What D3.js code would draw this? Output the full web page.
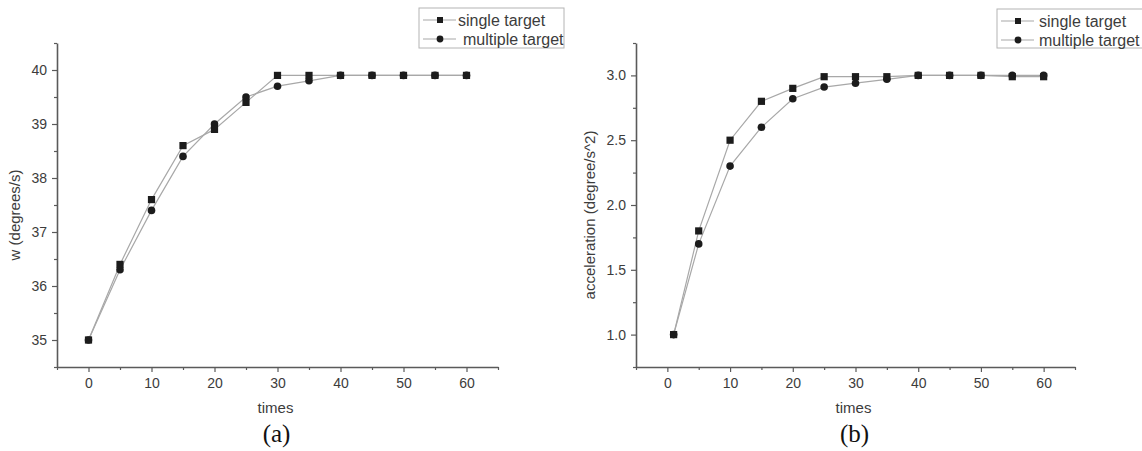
<!DOCTYPE html>
<html>
<head>
<meta charset="utf-8">
<script src="https://cdn.jsdelivr.net/npm/d3@7"></script>
<style>
  html, body { margin: 0; padding: 0; background: #fff; }
  svg { display: block; }
  .tick text { font-family: "Liberation Sans", Arial, sans-serif; }
</style>
</head>
<body>
<svg id="chart" width="1142" height="451"></svg>
<script>
// ---- data ----
const timesA = [0, 5, 10, 15, 20, 25, 30, 35, 40, 45, 50, 55, 60];
const singleA = [35.0, 36.4, 37.6, 38.6, 38.9, 39.4, 39.9, 39.9, 39.9, 39.9, 39.9, 39.9, 39.9];
const multipleA = [35.0, 36.3, 37.4, 38.4, 39.0, 39.5, 39.7, 39.8, 39.9, 39.9, 39.9, 39.9, 39.9];

const timesB = [1, 5, 10, 15, 20, 25, 30, 35, 40, 45, 50, 55, 60];
const singleB = [1.0, 1.8, 2.5, 2.8, 2.9, 2.99, 2.99, 2.99, 3.0, 3.0, 3.0, 2.99, 2.99];
const multipleB = [1.0, 1.7, 2.3, 2.6, 2.82, 2.91, 2.94, 2.97, 3.0, 3.0, 3.0, 3.0, 3.0];

const xTicks = [0, 10, 20, 30, 40, 50, 60];
const xMinorTicks = [-5, 5, 15, 25, 35, 45, 55, 65];
const yTicksA = [35, 36, 37, 38, 39, 40];
const yMinorTicksA = [34.5, 35.5, 36.5, 37.5, 38.5, 39.5, 40.5];
const yTicksB = [1.0, 1.5, 2.0, 2.5, 3.0];
const yMinorTicksB = [0.75, 1.25, 1.75, 2.25, 2.75, 3.25];

const seriesNames = ["single target", "multiple target"];

// ---- drawing ----
const svg = d3.select("#chart");
const SANS = "'Liberation Sans', Arial, sans-serif";
const SERIF = "'Liberation Serif', 'Times New Roman', serif";
const AXIS = "#5a5a5a", LINE = "#a8a8a8", MARK = "#1c1c1c", TEXT = "#3c3c3c";

function panel(cfg) {
  const g = svg.append("g");
  const x = d3.scaleLinear().domain([-5, 65]).range([cfg.left, cfg.right]);
  const y = d3.scaleLinear().domain(cfg.yDomain).range([cfg.bottom, cfg.top]);

  // minor ticks
  g.append("g").attr("transform", `translate(0,${cfg.bottom})`)
    .call(d3.axisBottom(x).tickValues(xMinorTicks).tickSize(3).tickFormat("").tickSizeOuter(0))
    .call(a => a.select(".domain").remove())
    .call(a => a.selectAll("line").attr("stroke", AXIS).attr("stroke-width", 1.2));
  g.append("g").attr("transform", `translate(${cfg.left},0)`)
    .call(d3.axisLeft(y).tickValues(cfg.yMinor).tickSize(3).tickFormat("").tickSizeOuter(0))
    .call(a => a.select(".domain").remove())
    .call(a => a.selectAll("line").attr("stroke", AXIS).attr("stroke-width", 1.2));

  // major axes
  const xa = g.append("g").attr("transform", `translate(0,${cfg.bottom})`)
    .call(d3.axisBottom(x).tickValues(xTicks).tickSize(5).tickSizeOuter(0).tickPadding(6));
  const ya = g.append("g").attr("transform", `translate(${cfg.left},0)`)
    .call(d3.axisLeft(y).tickValues(cfg.yTicks).tickSize(5).tickSizeOuter(0).tickPadding(5)
      .tickFormat(cfg.yFormat));
  [xa, ya].forEach(a => {
    a.select(".domain").attr("stroke", AXIS).attr("stroke-width", 1.6);
    a.selectAll(".tick line").attr("stroke", AXIS).attr("stroke-width", 1.2);
    a.selectAll(".tick text").attr("fill", TEXT).attr("font-size", 14);
  });

  // series lines
  const line = d3.line().x(d => x(d[0])).y(d => y(d[1]));
  const sData = cfg.times.map((t, i) => [t, cfg.single[i]]);
  const mData = cfg.times.map((t, i) => [t, cfg.multiple[i]]);
  [mData, sData].forEach(d => g.append("path").datum(d).attr("d", line)
    .attr("fill", "none").attr("stroke", LINE).attr("stroke-width", 1.2));

  // markers
  g.selectAll(".m").data(mData).join("circle").attr("class", "m")
    .attr("cx", d => x(d[0])).attr("cy", d => y(d[1])).attr("r", 3.8).attr("fill", MARK);
  g.selectAll(".s").data(sData).join("rect").attr("class", "s")
    .attr("x", d => x(d[0]) - 3.6).attr("y", d => y(d[1]) - 3.6)
    .attr("width", 7.2).attr("height", 7.2).attr("fill", MARK);

  // axis titles
  g.append("text").attr("x", (cfg.left + cfg.right) / 2 - 2).attr("y", 413)
    .attr("text-anchor", "middle").attr("font-family", SANS).attr("font-size", 15)
    .attr("fill", TEXT).text("times");
  g.append("text")
    .attr("transform", `translate(${cfg.yLabelX},215) rotate(-90)`)
    .attr("text-anchor", "middle").attr("font-family", SANS).attr("font-size", 15)
    .attr("fill", TEXT).text(cfg.yLabel);

  // panel caption
  g.append("text").attr("x", (cfg.left + cfg.right) / 2 - 1).attr("y", 442)
    .attr("text-anchor", "middle").attr("font-family", SERIF).attr("font-size", 25)
    .attr("fill", "#111").text(cfg.caption);

  // legend
  const L = cfg.legend;
  const lg = g.append("g");
  lg.append("rect").attr("x", L.x).attr("y", L.y).attr("width", L.w).attr("height", L.h)
    .attr("fill", "#fff").attr("stroke", "#b4b4b4").attr("stroke-width", 1);
  seriesNames.forEach((name, i) => {
    const cy = L.y + 12 + i * 19;
    lg.append("line").attr("x1", L.x + 4).attr("x2", L.x + 37).attr("y1", cy).attr("y2", cy)
      .attr("stroke", LINE).attr("stroke-width", 1.2);
    if (i === 0) {
      lg.append("rect").attr("x", L.x + 21 - 3).attr("y", cy - 3).attr("width", 6).attr("height", 6)
        .attr("fill", MARK);
    } else {
      lg.append("circle").attr("cx", L.x + 21).attr("cy", cy).attr("r", 3.4).attr("fill", MARK);
    }
    lg.append("text").attr("x", L.x + L.textDx[i]).attr("y", cy + 5.5)
      .attr("font-family", SANS).attr("font-size", 16).attr("fill", TEXT).text(name);
  });
}

panel({
  left: 57, right: 498, top: 43, bottom: 367,
  yDomain: [34.5, 40.5], yTicks: yTicksA, yMinor: yMinorTicksA, yFormat: d3.format("d"),
  times: timesA, single: singleA, multiple: multipleA,
  yLabel: "w (degrees/s)", yLabelX: 20, caption: "(a)",
  legend: { x: 419, y: 8, w: 145, h: 40, textDx: [39, 44] }
});

panel({
  left: 636, right: 1075, top: 43, bottom: 367,
  yDomain: [0.75, 3.25], yTicks: yTicksB, yMinor: yMinorTicksB, yFormat: d3.format(".1f"),
  times: timesB, single: singleB, multiple: multipleB,
  yLabel: "acceleration (degree/s^2)", yLabelX: 595, caption: "(b)",
  legend: { x: 997, y: 9, w: 146, h: 39, textDx: [42, 42] }
});
</script>
</body>
</html>
